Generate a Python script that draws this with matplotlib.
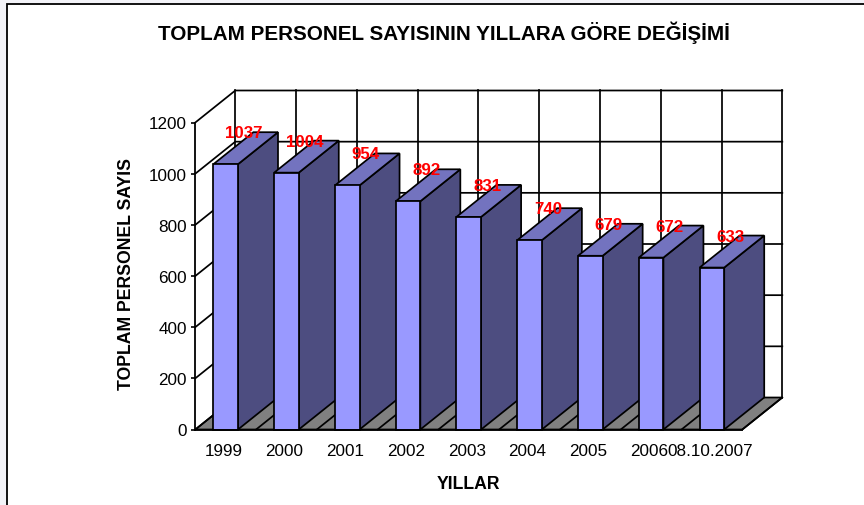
#!/usr/bin/env python3
"""Toplam personel sayisi, Excel style 3D column chart"""

import matplotlib
matplotlib.use('Agg')
import matplotlib.pyplot as plt
from matplotlib.patches import Polygon, Rectangle
from matplotlib.transforms import ScaledTranslation

years = ['1999', '2000', '2001', '2002', '2003', '2004', '2005', '2006', '08.10.2007']
personel = [1037, 1004, 954, 892, 831, 740, 679, 672, 633]
y_ticks = [0, 200, 400, 600, 800, 1000, 1200]

W, H = 864, 506
FRONT, SIDE, TOP, FLOOR = '#9999FF', '#4D4D80', '#7373BF', '#808080'

plt.rcParams['font.family'] = ['Liberation Sans', 'DejaVu Sans']
fig = plt.figure(figsize=(W / 100, H / 100), dpi=100, facecolor='#F3F3F8')

# chart frame, runs off the right and bottom of the picture
fig.add_artist(Rectangle((7 / W, -0.02), 1.05, 1 - 4.5 / H + 0.02, transform=fig.transFigure,
                         fc='white', ec='black', lw=1.3, zorder=-1))

# front plane of the plot in pixels: x 195-742, y 123-430
ax = fig.add_axes([195.3 / W, 1 - 430.5 / H, 547 / W, 307 / H])
ax.set_xlim(-0.5, len(years) - 0.5)
ax.set_ylim(0, 1200)
ax.patch.set_visible(False)
for s in ['top', 'right']:
    ax.spines[s].set_visible(False)
for s in ['left', 'bottom']:
    ax.spines[s].set_linewidth(1.3)
    ax.spines[s].set_zorder(8)

# depth of the box, in data units
dx = 40 / (547 / len(years))
dy = 32 / (307 / 1200)
x0, x1 = -0.5, len(years) - 0.5
lw = 1.25
kw = dict(clip_on=False, ec='black', lw=lw, joinstyle='miter')

# floor
ax.add_patch(Polygon([(x0, 0), (x1, 0), (x1 + dx, dy), (x0 + dx, dy)], fc=FLOOR, zorder=1, **kw))
for i in range(len(years) + 1):
    ax.plot([x0 + i, x0 + i + dx], [0, dy], color='black', lw=lw, clip_on=False, zorder=1.5)

# side wall and back wall grid
for t in y_ticks[1:]:
    ax.plot([x0, x0 + dx, x1 + dx], [t, t + dy, t + dy], color='black', lw=lw, clip_on=False, zorder=1.5)
for i in range(len(years) + 1):
    ax.plot([x0 + i + dx] * 2, [dy, 1200 + dy], color='black', lw=lw, clip_on=False, zorder=1.5)

# columns
bw = 0.405
xs = range(len(years))
for i, v in zip(xs, personel):
    l, r = i - bw / 2, i + bw / 2
    ax.add_patch(Polygon([(r, 0), (r + dx, dy), (r + dx, v + dy), (r, v)], fc=SIDE, zorder=3, **kw))
    ax.add_patch(Polygon([(l, v), (r, v), (r + dx, v + dy), (l + dx, v + dy)], fc=TOP, zorder=3, **kw))
ax.bar(xs, personel, width=bw, color=FRONT, edgecolor='black', linewidth=lw, zorder=4, clip_on=False)

for i, v in zip(xs, personel):
    ax.annotate(str(v), (i, v), xytext=(18.5 * 0.72, 31.5 * 0.72), textcoords='offset points',
                ha='center', va='center', color='#FF0000', fontsize=12.2, fontweight='bold',
                annotation_clip=False, zorder=6)

ax.set_xticks(list(xs))
ax.set_xticklabels(years)
ax.set_yticks(y_ticks)
ax.tick_params(axis='x', length=0, labelsize=12.3, pad=10, colors='black')
ax.tick_params(axis='y', length=3, width=1.2, labelsize=12.3, pad=3, colors='black')

# year labels sit a little left of the column centres
shift = ScaledTranslation(-2 / 100, 0, fig.dpi_scale_trans)
for lab in ax.get_xticklabels():
    lab.set_transform(lab.get_transform() + shift)

fig.text(444 / W, 1 - 32.5 / H, 'TOPLAM PERSONEL SAYISININ YILLARA GÖRE DEĞİŞİMİ',
         ha='center', va='center', fontsize=14.85, fontweight='bold')
fig.text(468 / W, 1 - 485 / H, 'YILLAR', ha='center', va='center', fontsize=12.7, fontweight='bold')
fig.text(126.5 / W, 1 - 274 / H, 'TOPLAM PERSONEL SAYIS', ha='center', va='center', rotation=90,
         fontsize=12.7, fontweight='bold')

fig.savefig('out.png', dpi=100, facecolor=fig.get_facecolor())
plt.close(fig)
